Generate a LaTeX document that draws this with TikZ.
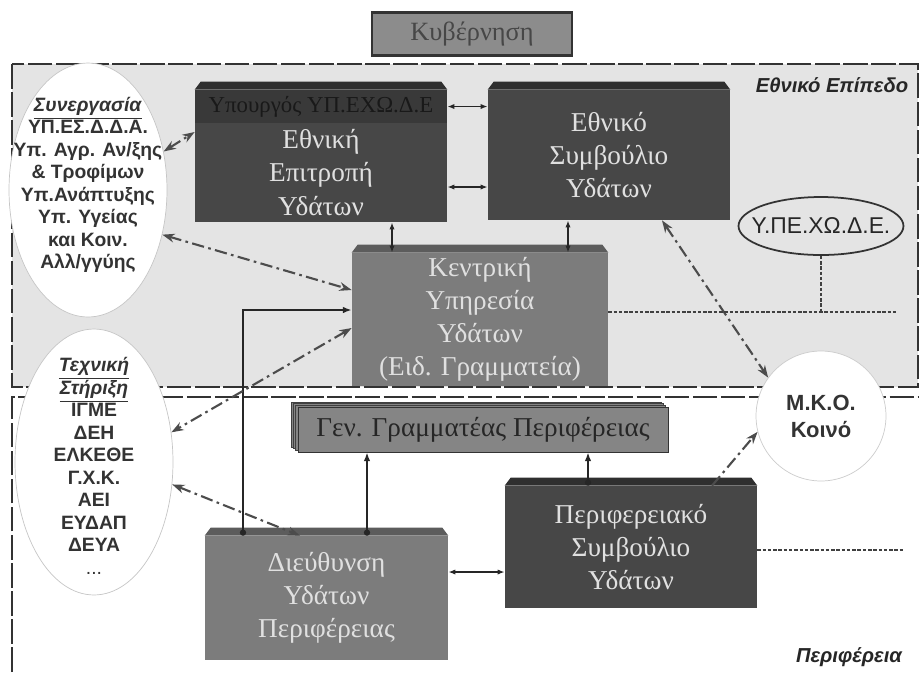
\documentclass[tikz,border=0pt]{standalone}
\usepackage{fontspec}
\setmainfont{Liberation Serif}
\setsansfont{Liberation Sans}
\usetikzlibrary{arrows.meta,shapes.geometric}
\definecolor{natbg}{HTML}{E4E4E4}
\definecolor{boxdark}{HTML}{474747}
\definecolor{boxmid}{HTML}{7C7C7C}
\definecolor{bevdark}{HTML}{2F2F2F}
\definecolor{bevmid}{HTML}{5C5C5C}

\begin{document}
\begin{tikzpicture}[x=0.02cm,y=-0.02cm,
  box/.style={rectangle,inner sep=0pt,align=center,text=white!88!black,font={\fontsize{15.5}{18.8}\selectfont}},
  darkbox/.style={box,fill=boxdark},
  midbox/.style={box,fill=boxmid},
  oval/.style={ellipse,fill=white,draw=gray!45,inner sep=0pt},
  ovaltxt/.style={align=center,inner sep=0pt,text=black!80,font={\sffamily\bfseries\fontsize{11}{12.8}\selectfont}},
  conn/.style={draw=black!85,line width=1.1pt},
  biarrow/.style={conn,{Latex[length=4pt]}-{Latex[length=4pt]}},
  dotarrow/.style={conn,{Circle[length=3.5pt]}-{Latex[length=5pt]}},
  dashdot/.style={draw=black!70,line width=1.2pt,dash pattern=on 7pt off 2.5pt on 1.5pt off 2.5pt},
  ddarrow/.style={dashdot,{Stealth[length=7pt,width=5pt]}-{Stealth[length=7pt,width=5pt]}},
  ddsingle/.style={dashdot,-{Stealth[length=7pt,width=5pt]}},
  fineline/.style={draw=black!75,line width=0.9pt,dash pattern=on 2pt off 1pt},
  border/.style={draw=black!80,line width=1.2pt,dash pattern=on 14pt off 2pt},
  lvl/.style={font={\sffamily\bfseries\itshape\fontsize{11.5}{14}\selectfont},text=black!85}
]
\useasboundingbox (0,0) rectangle (920,674);

% the two levels
\fill[natbg] (12,64) rectangle (918,387);
\draw[border] (12,64) rectangle (918,387);
\draw[border] (12,672) -- (12,397) -- (918,397);

\node[rectangle,fill=black!45,draw=black!80,line width=1.2pt,minimum width=4cm,minimum height=0.86cm,text=black!72,font={\fontsize{15}{18}\selectfont}] (kyv) at (472,34) {Κυβέρνηση};

% national level
\node[box,fill=bevdark!95,text=black!90,minimum width=5.04cm,minimum height=0.66cm,font={\fontsize{13}{15}\selectfont}] (ypourgos) at (321,106.5) {Υπουργός ΥΠ.ΕΧΩ.Δ.Ε};
\node[darkbox,minimum width=5.04cm,minimum height=1.98cm] (epitr) at (321,172.5) {Εθνική\\Επιτροπή\\Υδάτων};
\node[darkbox,minimum width=4.84cm,minimum height=2.6cm] (symv) at (609,155) {Εθνικό\\Συμβούλιο\\Υδάτων};
\node[midbox,minimum width=5.12cm,minimum height=2.66cm] (kentr) at (480,319.5) {Κεντρική\\Υπηρεσία\\Υδάτων\\(Ειδ. Γραμματεία)};

% regional level
\foreach \d in {7,5,3}
  \draw[fill=black!48,draw=black!75] (298-\d,407-0.7*\d) rectangle (668-\d,452-0.7*\d);
\node[box,fill=black!48,draw=black!80,text=black!85,minimum width=7.4cm,minimum height=0.9cm] (gen) at (483,429.5) {Γεν. Γραμματέας Περιφέρειας};
\node[darkbox,minimum width=5.04cm,minimum height=2.44cm] (perif) at (631,547) {Περιφερειακό\\Συμβούλιο\\Υδάτων};
\node[midbox,minimum width=4.86cm,minimum height=2.48cm] (dieyth) at (326.5,598) {Διεύθυνση\\Υδάτων\\Περιφέρειας};

\foreach \b/\c in {ypourgos/bevdark,symv/bevdark,perif/bevdark,kentr/bevmid,dieyth/bevmid}
  \fill[\c] (\b.north west) -- ([xshift=0.12cm,yshift=0.16cm]\b.north west) -- ([xshift=-0.12cm,yshift=0.16cm]\b.north east) -- (\b.north east) -- cycle;

% partners
\node[oval,minimum width=3.16cm,minimum height=5.08cm] (synerg) at (88,190) {};
\node[ovaltxt] (synergtxt) at (88,185) {\underline{\textit{Συνεργασία}}\\ΥΠ.ΕΣ.Δ.Δ.Α.\\Υπ. Αγρ. Αν/ξης\\\& Τροφίμων\\Υπ.Ανάπτυξης\\Υπ. Υγείας\\και Κοιν.\\Αλλ/γγύης};
\node[oval,minimum width=3.16cm,minimum height=5.32cm] (techn) at (94,462) {};
\node[ovaltxt] (techntxt) at (94,466) {\underline{\textit{Τεχνική}}\\\underline{\textit{Στήριξη}}\\ΙΓΜΕ\\ΔΕΗ\\ΕΛΚΕΘΕ\\Γ.Χ.Κ.\\ΑΕΙ\\ΕΥΔΑΠ\\ΔΕΥΑ\\{\mdseries ...}};
\node[ellipse,draw=black!80,line width=1pt,fill=natbg,minimum width=3.3cm,minimum height=1.16cm,inner sep=0pt] (ypexode) at (821,226) {};
\node[font={\sffamily\fontsize{13}{15}\selectfont},text=black!85,inner sep=0pt] (ypexodetxt) at (ypexode) {Υ.ΠΕ.ΧΩ.Δ.Ε.};
\node[circle,fill=white,draw=gray!40,minimum size=2.6cm,inner sep=0pt,align=center,text=black!80,font={\sffamily\bfseries\fontsize{12.5}{15.3}\selectfont}] (mko) at (821,416) {Μ.Κ.Ο.\\Κοινό};

\node[lvl] (ethniko) at (832,85) {Εθνικό Επίπεδο};
\node[lvl] (perifereia) at (849,657) {Περιφέρεια};

% solid links
\draw[biarrow] (ypourgos.east) -- (ypourgos.east -| symv.west);
\draw[biarrow] (epitr.east |- 0,187) -- (symv.west |- 0,187);
\draw[biarrow] (392,0 |- epitr.south) -- (392,0 |- kentr.north);
\draw[biarrow] (568,0 |- symv.south) -- (568,0 |- kentr.north);
\draw[dotarrow] (dieyth.north -| 243,0) |- (kentr.west |- 0,310);
\draw[dotarrow] (367,0 |- dieyth.north) -- (367,0 |- gen.south);
\draw[dotarrow] (588,0 |- perif.north) -- (588,0 |- gen.south);
\draw[biarrow] (dieyth.east |- 0,572) -- (perif.west |- 0,572);

% dash-dot links
\draw[ddarrow] (synerg.27) -- (epitr.west |- 0,132);
\draw[ddarrow] (synerg.-31) -- (kentr.west |- 0,290);
\draw[ddarrow] (kentr.west |- 0,328) -- (techn.21);
\draw[ddarrow] (techn.-16) -- (dieyth.north -| 300,0);
\draw[ddarrow] (symv.south -| 662,0) -- (mko.144);
\draw[ddsingle] (perif.north -| 712,0) -- (mko.194);

% dotted lines
\coordinate (dotend1) at (898,312);
\coordinate (dotend2) at (903,550);
\draw[fineline] (kentr.east |- dotend1) -- (dotend1);
\draw[fineline] (ypexode.south) -- (ypexode.south |- dotend1);
\draw[fineline] (perif.east |- dotend2) -- (dotend2);
\end{tikzpicture}
\end{document}
